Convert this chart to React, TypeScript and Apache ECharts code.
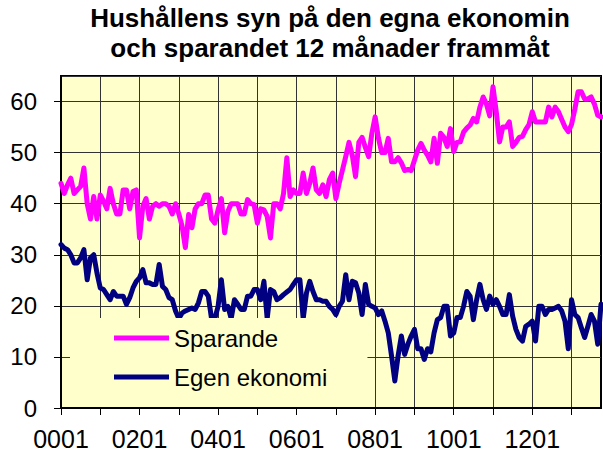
import React, { useEffect, useRef } from "react";
import * as echarts from "echarts";

const chartTitle = "Hushållens syn på den egna ekonomin\noch sparandet 12 månader frammåt";
const seriesNames = ["Sparande", "Egen ekonomi"];
const seriesColors = ["#FF00FF", "#000080"];

const startYear = 2000;
const monthCount = 166;
const months: string[] = [];
for (let i = 0; i < monthCount; i++) {
  const y = startYear + Math.floor(i / 12);
  const m = (i % 12) + 1;
  months.push(String(y % 100).padStart(2, "0") + String(m).padStart(2, "0"));
}

const sparande = [
  44, 42, 43.7, 45, 42, 42.7, 43.4, 47, 40, 37, 41.4, 37,
  41.7, 40.5, 39, 43, 40, 38, 38, 42.7, 42.7, 39, 42.4, 42.7,
  33.3, 39.5, 41, 37, 39.5, 40, 39.5, 40, 40, 39.5, 38, 40,
  38, 35.6, 31.4, 37.9, 35.3, 39, 40, 40, 41.7, 41.7, 37, 36.2,
  38.8, 41, 34.3, 38.5, 40, 40, 40, 38, 38, 40.8, 40, 39.8,
  36.2, 39, 38.8, 37.5, 33.3, 40, 40, 39, 42, 49, 41.4, 42.7,
  42, 42, 46, 42, 44, 47, 42.7, 42, 43.7, 41.4, 44.7, 46,
  41, 44, 46.6, 49.2, 52, 49.5, 45.3, 52, 53, 51, 49.2, 53.8,
  57, 52.8, 50, 50, 52.8, 48.2, 48.2, 49, 48, 46.5, 46.7, 46.5,
  48.5, 50.5, 51.8, 50.5, 49.5, 48.2, 52.8, 47.9, 53.8, 53, 51.2, 54.7,
  50.2, 52, 52.1, 54, 54.8, 55.4, 56.7, 56, 58.9, 60.9, 59.5, 57.2,
  62.9, 58, 52.1, 55, 55, 56, 51.2, 52, 53, 53.2, 54.5, 55.5,
  58, 56, 56, 56, 56, 58.9, 57, 58.9, 58, 56.5, 55, 54.1,
  55.5, 58.5, 61.9, 61.9, 60.5, 60.5, 60.9, 59.5, 57.3, 57,
];

const egenEkonomi = [
  32, 31.3, 31, 30, 28.4, 28.4, 29.4, 31, 25.1, 29.4, 30, 26.4,
  23.5, 23.2, 22.2, 21.2, 22.8, 21.9, 21.9, 21.9, 20.3, 21.6, 23.5, 24.8,
  25.5, 27.1, 24.5, 24.5, 24.2, 24.2, 28.1, 23.8, 23.2, 21.6, 21.2, 19,
  17.5, 18.6, 19, 19.3, 19.6, 19.3, 20.6, 22.8, 22.8, 21.9, 17.5, 17.5,
  19.9, 25.1, 19.3, 19.9, 17.5, 21.2, 20.3, 19.3, 19.3, 21.9, 21.9, 23.2,
  23.2, 21.2, 24.8, 17.5, 23.2, 22.8, 21.2, 21.6, 22.2, 22.7, 23.2, 24.2,
  25.1, 25.1, 17.5, 22.5, 24.8, 22.8, 21.2, 21.2, 20.9, 20.9, 19.9, 19.3,
  18.3, 19.9, 20.9, 26.1, 21.2, 24.8, 24.5, 22.5, 18.3, 24.2, 20.3, 19.9,
  19.6, 18.3, 19, 17, 14.7, 10.2, 5.3, 10.2, 14.1, 10.5, 12.5, 14.1,
  15.4, 11.6, 11.6, 9.5, 11.6, 11, 14.7, 17.3, 17.7, 19.9, 19.9, 14.1,
  14.7, 17.7, 17.7, 19.9, 22.8, 21.9, 17.3, 21.2, 24.2, 21.2, 19.3, 21.9,
  20.3, 21.2, 19.9, 18.3, 18.3, 22.2, 18, 15.4, 13.8, 13.1, 16, 16.4,
  17, 13.1, 19.9, 19.9, 18.3, 19.3, 19.3, 19.6, 19.9, 19, 17, 11.6,
  21.2, 18.3, 17.7, 15.7, 13.8, 16, 18.3, 17, 12.5, 20.3,
];

const yMin = 0;
const yMax = 65;
const yInterval = 10;
const tickEvery = 12;
const labelEvery = 24;

const FONT = "'Liberation Sans', Arial, Helvetica, sans-serif";

export default function App() {
  const ref = useRef<HTMLDivElement>(null);
  useEffect(() => {
    if (!ref.current) return;
    const chart = echarts.init(ref.current, undefined, { renderer: "svg" });
    chart.setOption({
      animation: false,
      backgroundColor: "#FFFFFF",
      title: {
        text: chartTitle,
        left: 330,
        top: 3,
        padding: 0,
        textAlign: "center",
        textStyle: {
          fontFamily: FONT,
          fontSize: 26,
          fontWeight: "bold",
          lineHeight: 30,
          color: "#000",
        },
      },
      grid: {
        left: 61,
        right: 2,
        top: 76,
        bottom: 48,
        show: true,
        backgroundColor: "#FFFFCC",
        borderColor: "#000",
        borderWidth: 2,
      },
      legend: {
        orient: "vertical",
        left: 70,
        top: 318,
        backgroundColor: "#FFFFCC",
        padding: [8, 40, 18, 44],
        itemWidth: 55,
        itemHeight: 5,
        itemGap: 15,
        icon: "rect",
        z: 10,
        data: seriesNames,
        textStyle: { fontFamily: FONT, fontSize: 24, color: "#000" },
      },
      xAxis: {
        type: "category",
        data: months,
        boundaryGap: false,
        axisLine: { onZero: false, lineStyle: { color: "#000", width: 2 } },
        axisTick: {
          interval: (i: number) => i % tickEvery === 0,
          length: 7,
          lineStyle: { color: "#000", width: 1 },
        },
        axisLabel: { show: false },
        splitLine: {
          show: true,
          interval: (i: number) => i % tickEvery === 0,
          lineStyle: { color: "#333", width: 1 },
        },
      },
      yAxis: {
        type: "value",
        min: yMin,
        max: yMax,
        interval: yInterval,
        axisLine: { show: true, onZero: false, lineStyle: { color: "#000", width: 2 } },
        axisTick: { show: true, length: 7, lineStyle: { color: "#000", width: 1 } },
        axisLabel: {
          fontFamily: FONT,
          fontSize: 24,
          color: "#000",
          margin: 24,
          showMaxLabel: false,
        },
        splitLine: { show: true, lineStyle: { color: "#333", width: 1 } },
      },
      series: [
        {
          name: seriesNames[0],
          type: "line",
          data: sparande,
          showSymbol: false,
          symbol: "none",
          color: seriesColors[0],
          lineStyle: { width: 5, color: seriesColors[0], cap: "round", join: "round" },
          z: 3,
        },
        {
          name: seriesNames[1],
          type: "line",
          data: egenEkonomi,
          showSymbol: false,
          symbol: "none",
          color: seriesColors[1],
          lineStyle: { width: 5, color: seriesColors[1], cap: "round", join: "round" },
          z: 3,
        },
      ],
    });

    // x-axis tick labels, placed at the category axis' own pixel positions
    const axisY = chart.convertToPixel({ yAxisIndex: 0 }, yMin) as number;
    const labelTexts = months
      .map((m, i) => ({ m, i }))
      .filter(({ i }) => i % labelEvery === 0)
      .map(({ m, i }) => ({
        type: "text",
        x: chart.convertToPixel({ xAxisIndex: 0 }, i) as number,
        y: axisY + 18,
        z: 20,
        style: {
          text: m,
          fontFamily: FONT,
          fontSize: 25,
          fill: "#000",
          align: "center",
          verticalAlign: "top",
        },
      }));
    chart.setOption({ graphic: labelTexts });

    return () => chart.dispose();
  }, []);
  return (
    <div
      ref={ref}
      style={{ position: "fixed", left: 0, top: 0, width: 603, height: 456 }}
    />
  );
}
